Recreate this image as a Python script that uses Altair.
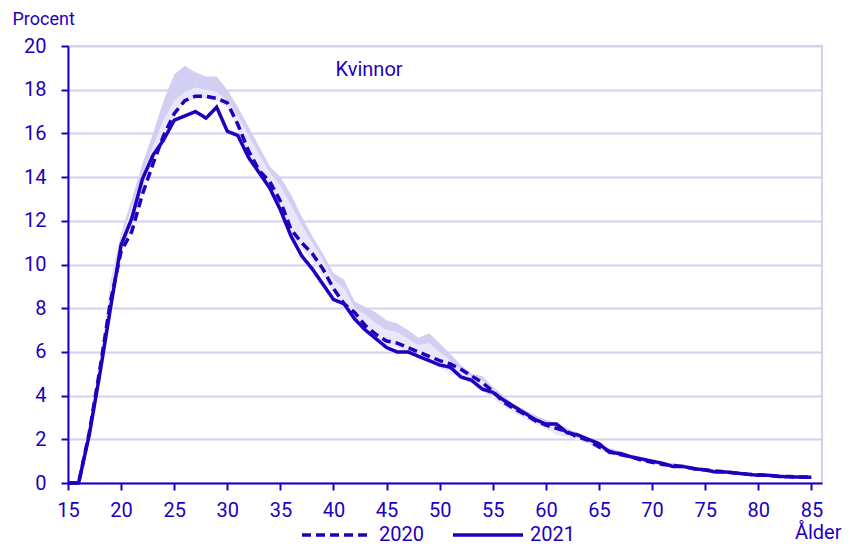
import altair as alt
import pandas as pd

ages = list(range(15, 86))

v2020 = [0, 0, 2.3, 5.2, 8.3, 10.6, 11.5, 13.2, 14.6, 15.9,
         16.9, 17.5, 17.7, 17.7, 17.6, 17.4, 16.4, 15.2, 14.3, 13.8,
         12.9, 11.6, 11.0, 10.5, 9.8, 8.9, 8.2, 7.8, 7.2, 6.8,
         6.5, 6.4, 6.2, 6.0, 5.8, 5.6, 5.45, 5.2, 4.9, 4.6,
         4.2, 3.7, 3.4, 3.15, 2.85, 2.65, 2.5, 2.35, 2.1, 1.95,
         1.65, 1.45, 1.3, 1.2, 1.05, 0.95, 0.85, 0.8, 0.75, 0.65,
         0.6, 0.55, 0.5, 0.45, 0.4, 0.38, 0.35, 0.3, 0.3, 0.27, 0.27]

v2021 = [0, 0, 2.2, 5.0, 8.0, 10.9, 12.1, 13.9, 15.0, 15.7,
         16.6, 16.8, 17.0, 16.7, 17.2, 16.1, 15.9, 14.9, 14.2, 13.5,
         12.5, 11.3, 10.4, 9.8, 9.1, 8.4, 8.2, 7.5, 7.0, 6.6,
         6.2, 6.0, 6.0, 5.8, 5.6, 5.4, 5.3, 4.85, 4.7, 4.3,
         4.15, 3.8, 3.5, 3.2, 2.9, 2.7, 2.7, 2.3, 2.2, 2.0,
         1.8, 1.4, 1.35, 1.2, 1.1, 1.0, 0.9, 0.75, 0.75, 0.65,
         0.6, 0.5, 0.5, 0.45, 0.4, 0.35, 0.35, 0.3, 0.28, 0.27, 0.26]

band_lo = [0, 0, 2.2, 5.0, 8.3, 10.7, 11.6, 13.3, 14.7, 15.9,
           16.9, 17.4, 17.6, 17.6, 17.5, 17.2, 16.2, 15.0, 14.1, 13.5,
           12.6, 11.4, 10.7, 10.2, 9.5, 8.7, 8.1, 7.6, 7.0, 6.6,
           6.3, 6.2, 6.0, 5.8, 5.6, 5.3, 5.0, 4.85, 4.6, 4.2,
           3.9, 3.5, 3.2, 2.95, 2.7, 2.5, 2.2, 2.1, 1.95, 1.8,
           1.55, 1.35, 1.2, 1.1, 1.0, 0.9, 0.8, 0.72, 0.68, 0.6,
           0.55, 0.48, 0.45, 0.4, 0.37, 0.33, 0.3, 0.28, 0.26, 0.25, 0.24]

band_mid = [0, 0, 2.35, 5.4, 9.0, 11.2, 12.6, 14.1, 15.4, 16.6,
            17.5, 17.9, 18.1, 18.0, 17.9, 17.5, 16.8, 15.9, 15.0, 14.2,
            13.6, 12.7, 11.8, 11.0, 10.2, 9.3, 8.9, 8.0, 7.7, 7.3,
            7.0, 6.9, 6.6, 6.3, 6.4, 6.0, 5.6, 5.2, 4.85, 4.7,
            4.25, 3.85, 3.5, 3.25, 3.0, 2.8, 2.65, 2.4, 2.2, 1.97,
            1.72, 1.53, 1.4, 1.25, 1.1, 1.0, 0.9, 0.85, 0.76, 0.68,
            0.62, 0.57, 0.52, 0.47, 0.43, 0.4, 0.36, 0.33, 0.3, 0.28, 0.28]

band_hi = [0, 0.05, 2.4, 5.5, 9.2, 11.4, 13.0, 14.6, 16.0, 17.5,
           18.7, 19.1, 18.8, 18.6, 18.6, 18.0, 17.2, 16.3, 15.4, 14.5,
           14.0, 13.2, 12.2, 11.3, 10.5, 9.6, 9.3, 8.3, 8.05, 7.8,
           7.45, 7.3, 7.0, 6.65, 6.85, 6.4, 5.9, 5.4, 5.0, 4.9,
           4.4, 4.0, 3.6, 3.35, 3.1, 2.9, 2.75, 2.5, 2.3, 2.05,
           1.8, 1.6, 1.45, 1.3, 1.15, 1.05, 0.95, 0.9, 0.8, 0.72,
           0.65, 0.6, 0.55, 0.5, 0.45, 0.42, 0.38, 0.35, 0.32, 0.3, 0.3]

x_ticks = list(range(15, 86, 5))
y_ticks = list(range(0, 21, 2))
series_names = ["2020", "2021"]
panel_label = ["Kvinnor"]

BLUE = "#1e00be"
GRID = "#d4d0f0"
LIGHT = "#e9e7fc"
DARK = "#d3cff2"
FONT = "Roboto"

band = pd.DataFrame({"age": ages, "lo": band_lo, "mid": band_mid, "hi": band_hi})
lines = pd.DataFrame({
    "age": ages * 2,
    "value": v2020 + v2021,
    "year": [series_names[0]] * len(ages) + [series_names[1]] * len(ages),
})
label_df = pd.DataFrame({"age": [40.2], "value": [18.9], "label": panel_label})

xscale = alt.Scale(domain=[15, 86], nice=False, zero=False)
yscale = alt.Scale(domain=[0, 20], nice=False)

x_axis = alt.Axis(values=x_ticks, title="Ålder", grid=False, titleAngle=0,
                  titleX=773, titleY=49, titleAlign="right", titleBaseline="middle",
                  labelPadding=10, labelFlush=False,
                  titleFontSize=20, titleFontWeight="normal")
y_axis = alt.Axis(values=y_ticks, title="Procent", grid=True, titleAngle=0,
                  titleX=-56, titleY=-27, titleAlign="left", titleBaseline="middle",
                  labelPadding=15, titleFontSize=18, titleFontWeight="normal")


def X(field):
    return alt.X(field, scale=xscale, axis=x_axis, title="Ålder")


def Y(field):
    return alt.Y(field, scale=yscale, axis=y_axis, title="Procent")


light = alt.Chart(band).mark_area(color=LIGHT, opacity=1).encode(
    x=X("age:Q"), y=Y("lo:Q"), y2="mid:Q",
)
dark = alt.Chart(band).mark_area(color=DARK, opacity=1).encode(
    x=X("age:Q"), y=Y("mid:Q"), y2="hi:Q",
)

line = alt.Chart(lines).mark_line(color=BLUE, strokeWidth=3.5).encode(
    x=X("age:Q"),
    y=Y("value:Q"),
    strokeDash=alt.StrokeDash(
        "year:N",
        scale=alt.Scale(domain=series_names, range=[[9, 5], [1, 0]]),
        legend=alt.Legend(
            orient="none", legendX=232, legendY=452, direction="horizontal",
            title=None, symbolType="stroke", symbolSize=4900,
            symbolStrokeWidth=3.5, symbolStrokeColor=BLUE,
            labelFontSize=20, labelColor=BLUE, labelFont=FONT,
            labelOffset=5, columnPadding=22,
        ),
    ),
)

text = alt.Chart(label_df).mark_text(
    align="left", baseline="middle", fontSize=20, color=BLUE, font=FONT
).encode(
    x=X("age:Q"), y=Y("value:Q"), text="label:N",
)

chart = alt.layer(light, dark, line, text).properties(
    width=754,
    height=437,
    autosize=alt.AutoSizeParams(type="none"),
    padding={"left": 60, "top": 38, "right": 22, "bottom": 62},
).configure_view(
    stroke=GRID, strokeWidth=2
).configure_axis(
    domainColor=BLUE, domainWidth=2, tickColor=BLUE, tickWidth=2, tickSize=7,
    labelColor=BLUE, labelFontSize=20, labelFont=FONT,
    titleColor=BLUE, titleFont=FONT,
    gridColor=GRID, gridWidth=2,
)

chart.save("out.html", embed_options={"renderer": "svg", "actions": False})
